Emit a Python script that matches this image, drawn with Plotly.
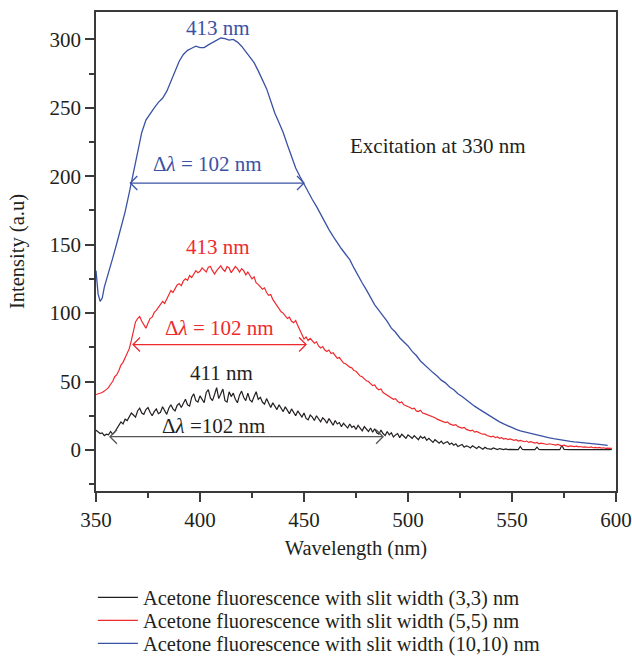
import plotly.graph_objects as go

# ---------------- data ----------------
wavelength = list(range(350, 599))  # 1 nm sampling grid for slit (3,3) and (5,5)

black_y = [
    14.5, 13.0, 12.0, 12.5, 10.5, 11.5, 11.0, 13.5, 11.5, 13.0,
    15.5, 17.0, 20.5, 19.0, 22.5, 21.5, 24.0, 27.0, 25.5, 24.0,
    28.5, 30.5, 27.0, 26.0, 29.5, 31.0, 27.5, 25.0, 28.0, 30.0,
    26.5, 27.5, 31.5, 29.0, 26.0, 30.5, 33.0, 30.0, 28.5, 32.5,
    34.0, 31.0, 33.5, 37.0, 33.0, 32.0, 38.5, 41.0, 36.0, 35.0,
    39.5, 37.0, 34.5, 42.0, 44.0, 38.0, 36.0, 40.5, 45.5, 37.5,
    41.0, 44.5, 36.0, 35.0, 42.5, 39.0, 41.5, 37.0, 34.5, 40.0,
    43.0, 38.5, 36.0, 41.5, 36.5, 35.0, 39.0, 42.5, 37.0, 38.5,
    35.0, 33.5, 37.5, 34.0, 31.0, 34.5, 32.0, 29.5, 33.0, 30.0,
    28.0, 31.5, 29.0, 26.5, 30.0, 27.5, 25.0, 28.5, 26.0, 24.0,
    27.0, 23.0, 22.0, 25.5, 24.0, 21.5, 25.0, 22.5, 20.5, 23.5,
    22.0, 19.5, 23.0, 20.5, 18.0, 21.5, 19.0, 20.0, 17.0, 19.5,
    18.0, 16.0, 19.0, 16.5, 17.5, 15.0, 18.0, 15.5, 14.0, 17.0,
    15.0, 13.5, 16.0, 13.0, 15.5, 12.5, 11.5, 14.5, 12.0, 10.5,
    13.5, 11.0, 12.5, 9.5, 11.0, 12.0, 9.0, 11.5, 10.0, 8.5,
    11.0, 9.5, 8.5, 10.5, 9.0, 7.5, 10.0, 8.5, 9.5, 7.0,
    8.5, 7.0, 5.5, 7.5, 6.0, 5.0, 6.5, 4.5, 5.5, 6.0,
    4.0, 5.0, 3.5, 4.5, 2.5, 3.5, 4.0, 2.0, 3.0, 2.5,
    1.5, 3.0, 2.0, 1.0, 2.5, 1.5, 0.5, 2.0, 1.0, 0.8,
    0.5, 1.5, 0.6, 0.3, 1.0, 0.4, 0.3, 0.8, 0.2, 0.4,
    0.3, 0.2, 0.4, 0.3, 2.5, 0.3, 0.2, 0.3, 0.2, 0.3,
    0.2, 0.3, 2.0, 0.3, 0.2, 0.4, 0.3, 0.2, 0.3, 0.2,
    0.3, 0.2, 0.3, 0.2, 3.5, 0.4, 0.2, 0.3, 0.2, 0.3,
    0.2, 0.3, 0.2, 0.3, 0.2, 0.3, 0.2, 0.3, 0.2, 0.3,
    0.2, 0.3, 0.2, 0.3, 0.2, 0.3, 0.2, 0.3, 0.4,
]

red_y = [
    40.5, 41.0, 41.2, 42.0, 43.0, 44.5, 45.5, 48.0, 50.0, 53.5,
    55.0, 58.0, 62.0, 64.0, 67.5, 71.0, 74.0, 80.0, 88.0, 93.5,
    96.0, 97.5, 94.0, 91.0, 89.0, 92.5, 96.0, 97.0, 100.5, 102.0,
    104.5, 106.0, 108.5, 107.0, 110.5, 113.0, 116.5, 115.0, 118.0, 120.5,
    121.5, 120.0, 123.5, 125.0, 124.0, 127.5, 126.0, 129.0, 131.0, 129.5,
    130.5, 133.0, 131.5, 130.0, 133.5, 134.0, 131.0, 128.5, 131.0, 133.0,
    134.5, 132.0, 130.5, 134.0, 133.0, 129.5, 131.5, 134.0, 132.5, 130.0,
    132.5, 131.0, 128.0, 130.0, 127.5, 125.0, 126.5, 122.0, 121.0, 119.0,
    117.5, 118.5, 115.0, 113.0, 113.5, 110.0, 107.5, 105.5, 103.0, 101.0,
    100.0, 97.5, 96.0, 97.0, 94.0, 93.0, 94.5, 91.0, 88.0, 84.5,
    81.0, 82.5, 80.0, 81.5, 79.5, 78.0, 79.0, 76.0, 74.5, 75.5,
    73.0, 72.0, 73.0, 70.5, 71.0, 68.5, 67.0, 67.5, 65.0, 63.5,
    63.0, 61.5, 60.5, 60.0, 58.0, 57.5, 56.0, 54.0, 53.5, 52.0,
    50.5, 50.0, 48.5, 47.0, 47.5, 45.0, 44.0, 44.5, 42.0, 41.0,
    40.0, 39.5, 38.5, 37.0, 37.5, 35.5, 34.5, 35.0, 33.0, 32.5,
    31.5, 31.0, 30.0, 30.5, 28.5, 28.0, 29.0, 27.0, 26.5, 26.0,
    25.5, 24.5, 24.0, 23.5, 22.5, 22.0, 21.5, 21.0, 20.0, 20.5,
    19.0, 18.5, 18.0, 18.5, 17.0, 16.5, 16.0, 16.5, 15.0, 14.5,
    14.0, 14.5, 13.0, 13.5, 12.5, 12.0, 11.5, 11.5, 10.5, 10.0,
    9.5, 10.0, 9.0, 9.5, 8.5, 9.0, 8.0, 8.5, 7.5, 8.0,
    7.5, 7.0, 7.5, 6.5, 7.0, 6.5, 6.0, 6.5, 5.5, 6.0,
    5.5, 5.0, 5.5, 4.5, 5.0, 4.5, 4.5, 4.0, 4.5, 4.0,
    4.0, 3.5, 4.0, 3.5, 3.0, 3.5, 3.0, 2.5, 3.0, 2.5,
    2.5, 2.8, 2.2, 2.5, 2.0, 2.3, 2.0, 1.8, 2.2, 1.6,
    1.8, 1.5, 1.8, 1.4, 1.6, 1.2, 1.4, 1.1, 1.2,
]

blue_x = [350, 351, 352, 353] + list(range(354, 597, 2))
blue_y = [
    131, 114, 108.5, 111,
    119, 129, 140, 151, 162, 174, 188, 203, 218, 232,
    241, 246, 250, 254, 257, 262, 269, 277, 284, 289,
    292, 293.5, 295, 294, 294, 296, 297.5, 299, 301, 300.5,
    299.5, 300, 298, 295, 291, 287, 283, 277, 271, 264,
    255, 246, 239, 232, 223, 214, 206, 200, 194, 189,
    183, 178, 172, 166, 161, 156, 151, 147, 143, 139,
    133, 127, 122, 117, 111, 106, 102, 98, 94, 89,
    86, 82, 79, 76, 72, 69, 65, 62, 59, 56.5,
    54, 51, 49, 46, 44, 41, 39, 36.5, 34.5, 32,
    30, 28, 26, 24, 22, 20.5, 19, 17.5, 16.2, 15,
    14, 13.2, 12.4, 11.7, 11, 10.3, 9.5, 8.8, 8.2, 7.6,
    7.1, 6.7, 6.3, 5.9, 5.5, 5.2, 4.9, 4.6, 4.3, 4.0,
    3.7, 3.4,
]

series_names = [
    "Acetone fluorescence with slit width (3,3) nm",
    "Acetone fluorescence with slit width (5,5) nm",
    "Acetone fluorescence with slit width (10,10) nm",
]

# peak labels: (x, y, text)  -- order: blue, red, black
peak_labels = [(408.8, 308, "413 nm"), (408.8, 148.5, "413 nm"), (410.3, 56, "411 nm")]
# FWHM labels and double arrows: (x, y, text), (x_start, x_end, y)
fwhm_labels = [(403.6, 209, "Δ<i>λ</i> = 102 nm"), (409.4, 89, "Δ<i>λ</i> = 102 nm"),
               (406.7, 17.7, "Δ<i>λ</i> =102 nm")]
fwhm_arrows = [(366.5, 450.0, 195), (367.8, 451.0, 77), (356.7, 488.0, 9.7)]

BLACK = "#231f20"
RED = "#ee2a2e"
BLUE = "#3a52a4"
ARROW_COLORS = [BLUE, RED, "#555555"]
TEXT_COLORS = [BLUE, RED, BLACK]
FONT = "Liberation Serif"
AX = "#3a3a3a"
FS = 21

fig = go.Figure()
fig.add_trace(go.Scatter(x=wavelength, y=black_y, mode="lines", name=series_names[0],
                         line=dict(color=BLACK, width=1.2), legend="legend", showlegend=True))
fig.add_trace(go.Scatter(x=wavelength, y=red_y, mode="lines", name=series_names[1],
                         line=dict(color=RED, width=1.2), legend="legend2", showlegend=True))
fig.add_trace(go.Scatter(x=blue_x, y=blue_y, mode="lines", name=series_names[2],
                         line=dict(color=BLUE, width=1.3), legend="legend3", showlegend=True))

annotations = []
for (x, y, t), c in zip(peak_labels, TEXT_COLORS):
    annotations.append(dict(x=x, y=y, xref="x", yref="y", text=t, showarrow=False,
                            font=dict(color=c, size=FS, family=FONT)))
for (x, y, t), c in zip(fwhm_labels, TEXT_COLORS):
    annotations.append(dict(x=x, y=y, xref="x", yref="y", text=t, showarrow=False,
                            font=dict(color=c, size=FS, family=FONT)))
annotations.append(dict(x=514.5, y=222, xref="x", yref="y", text="Excitation at 330 nm",
                        showarrow=False, font=dict(color=BLACK, size=FS, family=FONT)))

# double-headed arrows with open "V" heads (head size in pixels)
shapes = []
HEAD = 7
for (x0, x1, y), c in zip(fwhm_arrows, ARROW_COLORS):
    shapes.append(dict(type="line", xref="x", yref="y", x0=x0, x1=x1, y0=y, y1=y,
                       line=dict(color=c, width=1.3)))
    shapes.append(dict(type="path", xref="x", yref="y", xsizemode="pixel", ysizemode="pixel",
                       xanchor=x0, yanchor=y,
                       path=f"M {HEAD},{HEAD} L 0,0 L {HEAD},{-HEAD}",
                       line=dict(color=c, width=1.3)))
    shapes.append(dict(type="path", xref="x", yref="y", xsizemode="pixel", ysizemode="pixel",
                       xanchor=x1, yanchor=y,
                       path=f"M {-HEAD},{HEAD} L 0,0 L {-HEAD},{-HEAD}",
                       line=dict(color=c, width=1.3)))

axis_common = dict(showline=True, linecolor=AX, linewidth=1.5, mirror=True, showgrid=False,
                   zeroline=False, ticks="outside", ticklen=9, tickwidth=1.5, tickcolor=AX,
                   tickfont=dict(family=FONT, size=FS, color=BLACK))

legend_common = dict(x=-0.006, xanchor="left", yanchor="top", bgcolor="rgba(0,0,0,0)",
                     font=dict(family=FONT, size=20.5, color=BLACK), itemwidth=40)

fig.update_layout(
    width=632, height=656,
    showlegend=True,
    margin=dict(l=96, r=16, t=12, b=165, autoexpand=False),
    plot_bgcolor="white", paper_bgcolor="white",
    font=dict(family=FONT, size=FS, color=BLACK),
    xaxis=dict(range=[350, 600], tick0=350, dtick=50,
               minor=dict(tick0=350, dtick=25, ticks="outside", ticklen=5, tickwidth=1.5,
                          tickcolor=AX, showgrid=False),
               title=dict(text="Wavelength (nm)", font=dict(family=FONT, size=20.5, color=BLACK),
                          standoff=10),
               **axis_common),
    yaxis=dict(range=[-30, 320], tick0=0, dtick=50,
               minor=dict(tick0=0, dtick=25, ticks="outside", ticklen=5, tickwidth=1.5,
                          tickcolor=AX, showgrid=False),
               title=dict(text="Intensity (a.u)", font=dict(family=FONT, size=20.5, color=BLACK),
                          standoff=19),
               **axis_common),
    legend=dict(y=-0.1806, **legend_common),
    legend2=dict(y=-0.2286, **legend_common),
    legend3=dict(y=-0.2766, **legend_common),
    annotations=annotations,
    shapes=shapes,
)

fig.write_html("out.html")
